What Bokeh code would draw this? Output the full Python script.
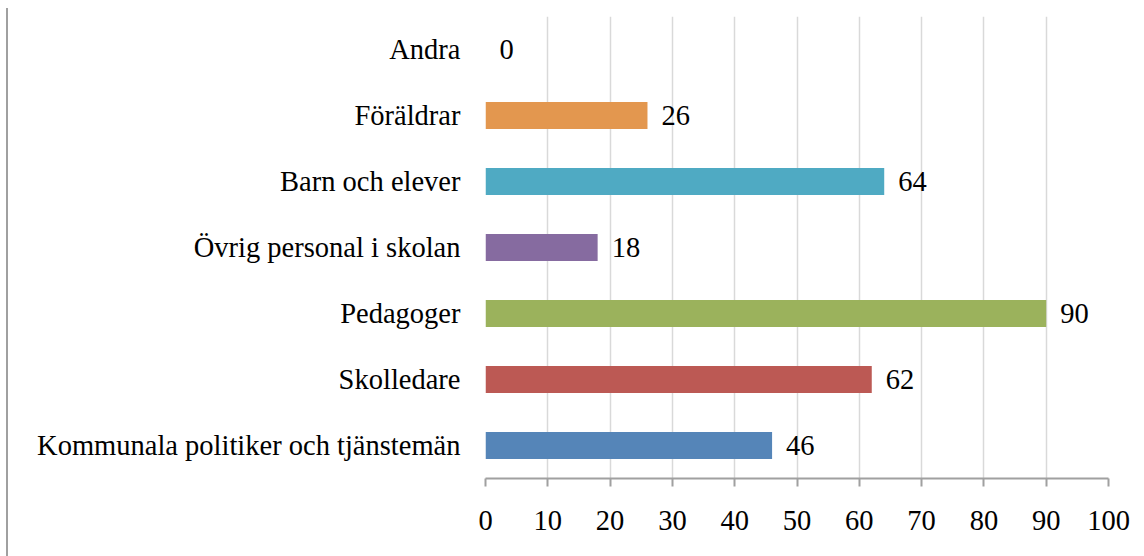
from bokeh.plotting import figure
from bokeh.models import ColumnDataSource, FixedTicker, LabelSet
from bokeh.embed import file_html
from bokeh.resources import INLINE

categories = ["Kommunala politiker och tjänstemän", "Skolledare", "Pedagoger",
              "Övrig personal i skolan", "Barn och elever", "Föräldrar", "Andra"]
values = [46, 62, 90, 18, 64, 26, 0]
colors = ["#5585B8", "#BC5954", "#9BB25C", "#866BA0", "#4FAAC3", "#E3974F", "#4F81BD"]
x_ticks = [0, 10, 20, 30, 40, 50, 60, 70, 80, 90, 100]

FONT = "Liberation Serif"
FS = "28.5px"

src = ColumnDataSource(dict(cat=categories, val=values, color=colors,
                            lab=[str(v) for v in values]))

p = figure(width=1136, height=548, y_range=categories, x_range=(0, 100),
           output_backend="svg", toolbar_location=None,
           min_border_left=477, min_border_right=36, min_border_top=8, min_border_bottom=78)
p.styles = {"margin-left": "6px", "margin-top": "8px", "border-left": "2px solid #a0a0a0"}

p.hbar(y="cat", right="val", left=0, height=0.41, fill_color="color", line_color=None, source=src)

labels = LabelSet(x="val", y="cat", text="lab", source=src, x_offset=14,
                  text_baseline="middle", text_font=FONT, text_font_size=FS,
                  text_color="#000000")
p.add_layout(labels)

p.outline_line_color = None
p.ygrid.grid_line_color = None
p.xgrid.grid_line_color = "#d9d9d9"
p.xgrid.grid_line_width = 1.5
p.xaxis.ticker = FixedTicker(ticks=x_ticks)
p.xaxis.axis_line_color = "#a0a0a0"
p.xaxis.axis_line_width = 2
p.xaxis.major_tick_line_color = "#a0a0a0"
p.xaxis.major_tick_line_width = 2
p.xaxis.major_tick_out = 8
p.xaxis.major_tick_in = 0
p.xaxis.minor_tick_line_color = None
p.xaxis.major_label_standoff = 24
p.xaxis.major_label_text_font = FONT
p.xaxis.major_label_text_font_size = FS
p.xaxis.major_label_text_color = "#000000"

p.yaxis.axis_line_color = None
p.yaxis.major_tick_line_color = None
p.yaxis.minor_tick_line_color = None
p.yaxis.major_tick_out = 0
p.yaxis.major_tick_in = 0
p.yaxis.major_label_standoff = 25
p.yaxis.major_label_text_font = FONT
p.yaxis.major_label_text_font_size = FS
p.yaxis.major_label_text_color = "#000000"

open("out.html", "w").write(file_html(p, INLINE))
